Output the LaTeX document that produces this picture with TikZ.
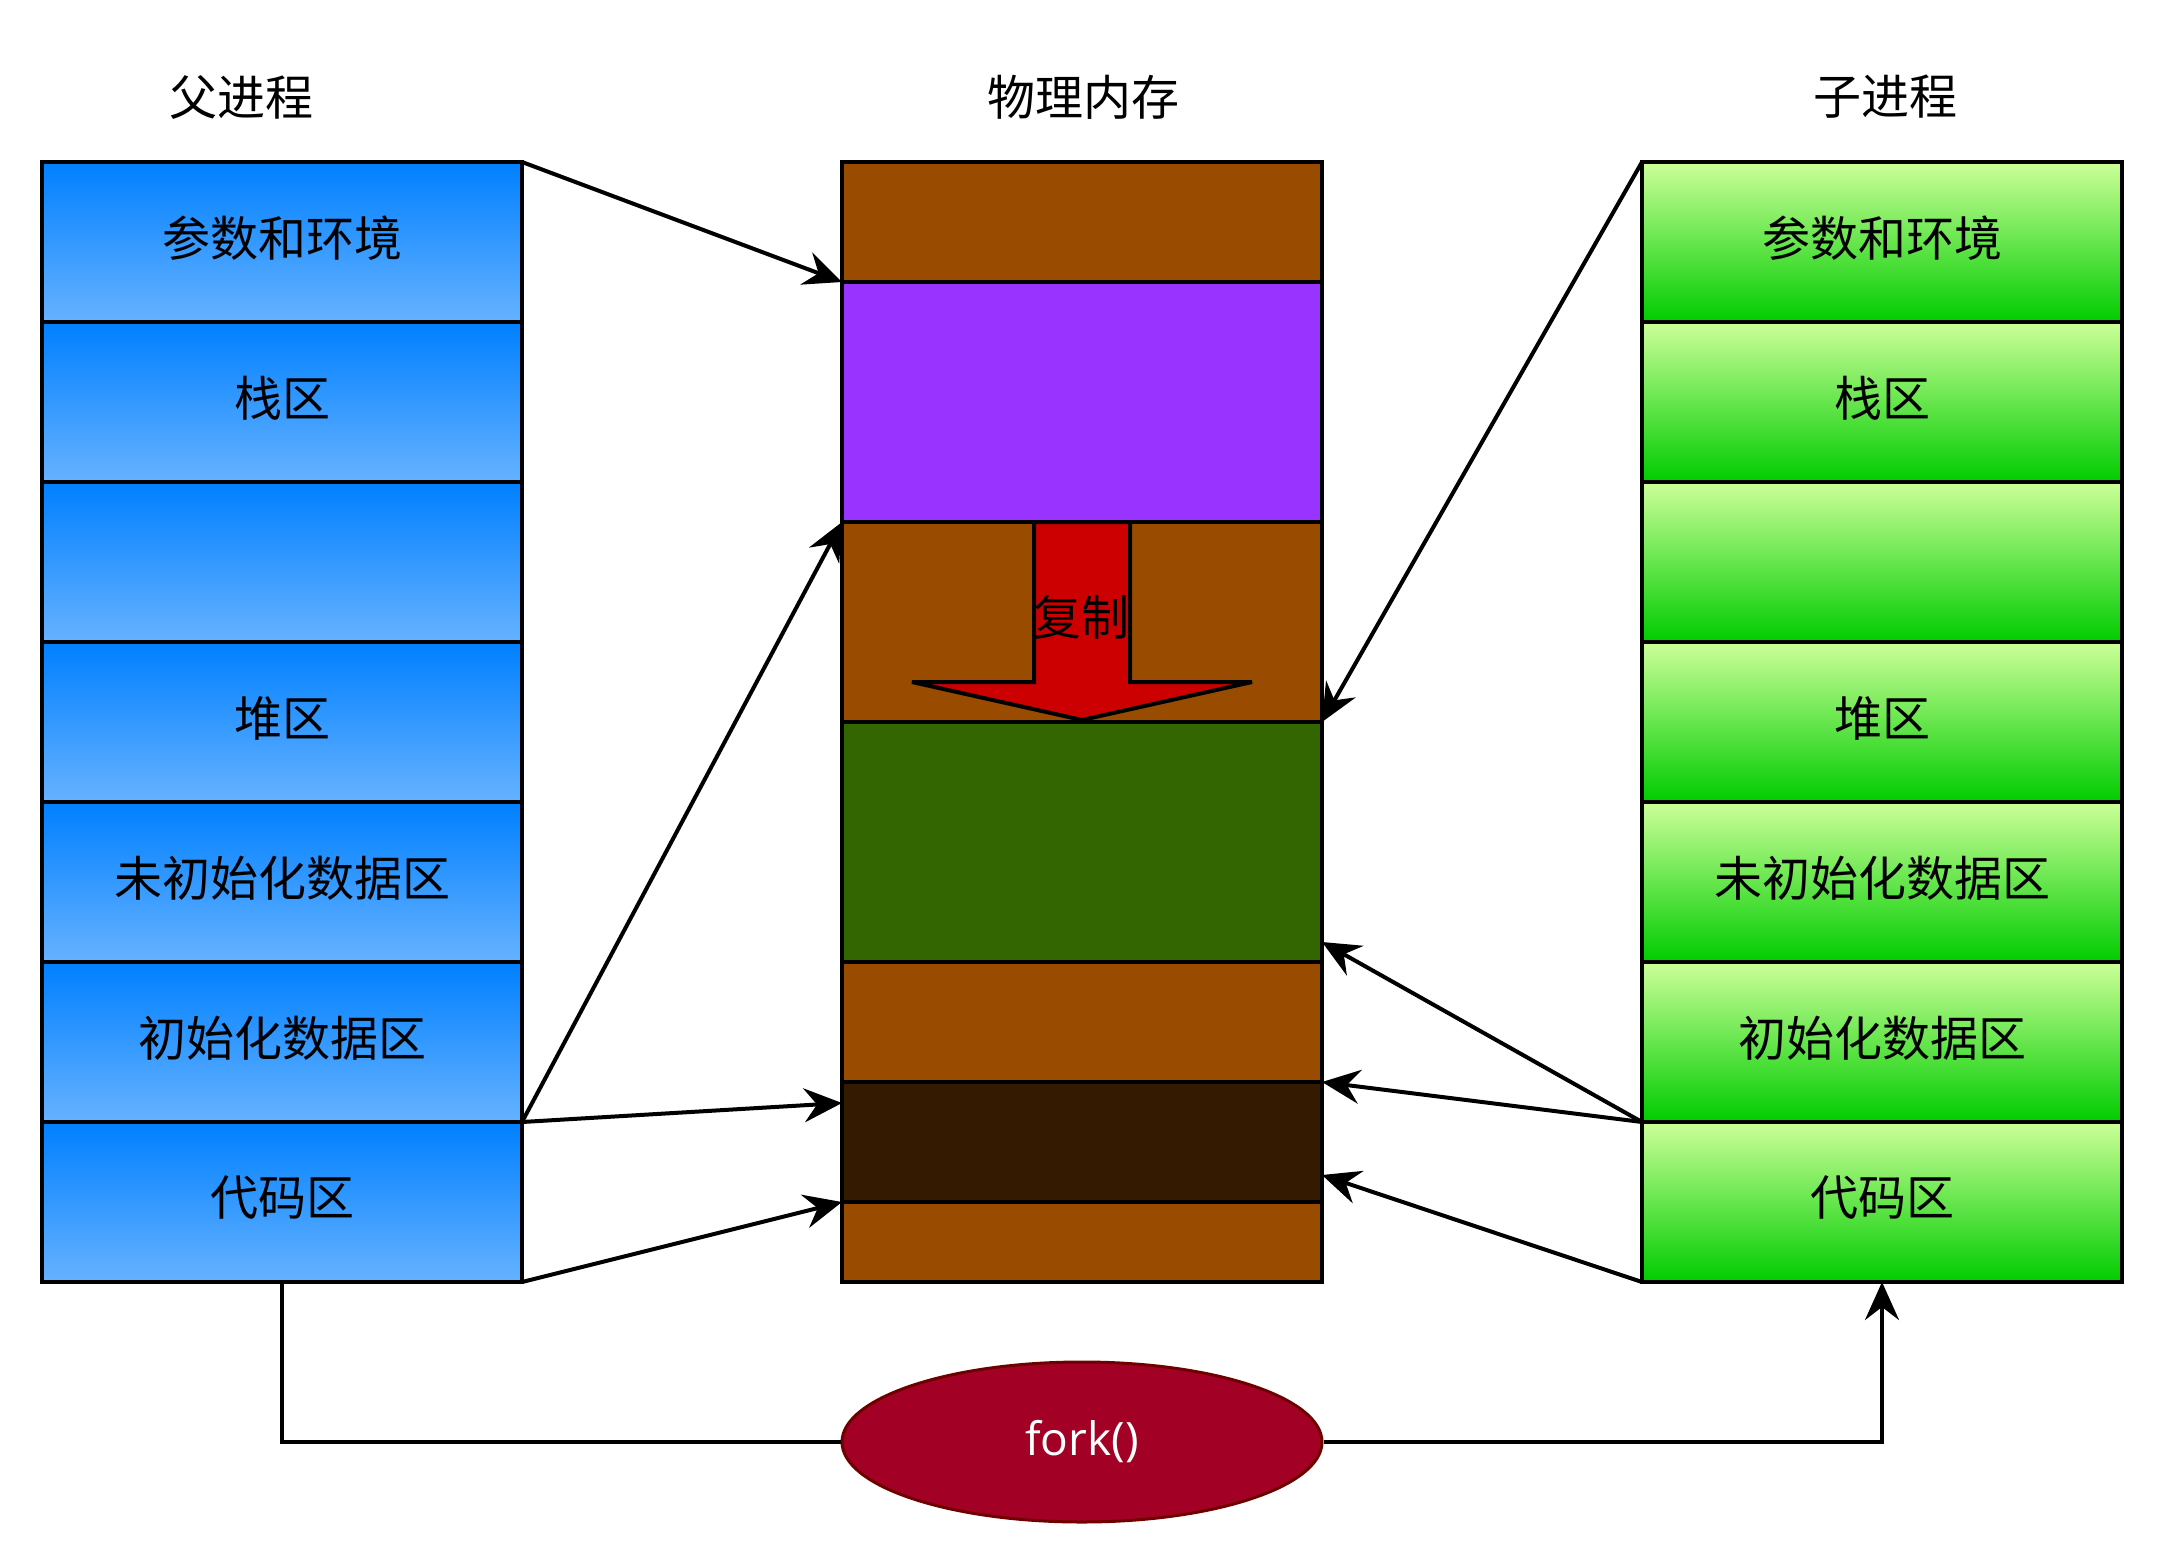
\documentclass[tikz,border=0pt]{standalone}
\usepackage{fontspec}
\setmainfont{Noto Sans CJK SC}
\newfontfamily\latinsf{Open Sans}
\usetikzlibrary{arrows.meta,shapes.geometric,calc}
\definecolor{bluetop}{RGB}{0,128,255}
\definecolor{bluebot}{RGB}{102,178,255}
\definecolor{greentop}{RGB}{204,255,153}
\definecolor{greenbot}{RGB}{0,204,0}
\definecolor{membrown}{HTML}{994C00}
\definecolor{mempurple}{HTML}{9933FF}
\definecolor{memgreen}{HTML}{336600}
\definecolor{memdark}{HTML}{331A00}
\definecolor{copyred}{HTML}{CC0000}
\definecolor{forkfill}{HTML}{A20025}
\definecolor{forkdraw}{HTML}{6F0000}
\begin{document}
\begin{tikzpicture}[x=1pt,y=-1pt,
  cjk/.style={font=\fontsize{48pt}{58pt}\selectfont},
  row/.style={draw=black, line width=4pt, inner sep=0pt, outer sep=0pt,
    minimum width=480pt, minimum height=160pt, anchor=north west},
  bluerow/.style={row, top color=bluetop, bottom color=bluebot},
  greenrow/.style={row, top color=greentop, bottom color=greenbot},
  rowtext/.style={cjk, inner sep=0pt},
  memblk/.style={draw=black, line width=4pt, inner sep=0pt, outer sep=0pt,
    minimum width=480pt, anchor=north west},
  title/.style={cjk, inner sep=0pt},
  arr/.style={line width=4pt, -{Stealth[length=38pt,width=34pt,inset=13pt]}},
  conn/.style={line width=4pt}
]
\useasboundingbox (0,0) rectangle (2164,1564);

% titles
\node[title] (tL) at (241,97) {父进程};
\node[title] (tM) at (1083,97) {物理内存};
\node[title] (tR) at (1885,97) {子进程};

% parent and child processes
\foreach \i in {0,...,6} {
  \node[bluerow] (L\i) at (42,162+160*\i) {};
  \node[greenrow] (R\i) at (1642,162+160*\i) {};
}
\foreach \i/\t in {0/参数和环境,1/栈区,3/堆区,4/未初始化数据区,5/初始化数据区,6/代码区} {
  \node[rowtext] (L\i t) at ($(L\i.center)+(0,-4)$) {\t};
  \node[rowtext] (R\i t) at ($(R\i.center)+(0,-4)$) {\t};
}

% physical memory
\node[memblk, fill=membrown, minimum height=120pt] (M0) at (842,162) {};
\node[memblk, fill=mempurple, minimum height=240pt] (M1) at (842,282) {};
\node[memblk, fill=membrown, minimum height=200pt] (M2) at (842,522) {};
\node[memblk, fill=memgreen, minimum height=240pt] (M3) at (842,722) {};
\node[memblk, fill=membrown, minimum height=120pt] (M4) at (842,962) {};
\node[memblk, fill=memdark, minimum height=120pt] (M5) at (842,1082) {};
\node[memblk, fill=membrown, minimum height=80pt] (M6) at (842,1202) {};

% copy arrow
\draw[line width=4pt, fill=copyred, line join=miter, miter limit=2.5]
  (1034,522) -- (1034,682) -- (912,682) -- (1082,720) -- (1252,682)
  -- (1130,682) -- (1130,522) -- cycle;
\node[cjk, inner sep=0pt] (copy) at (1081,617) {复制};

% mapping arrows
\coordinate (t3) at ($(M5.north west)+(0,21)$);
\coordinate (t6) at ($(M3.south east)+(0,-20)$);
\coordinate (t8) at ($(M5.south east)+(0,-27)$);
\draw[arr] (L0.north east) -- (M1.north west);
\draw[arr] (L6.north east) -- (M2.north west);
\draw[arr] (L6.north east) -- (t3);
\draw[arr] (L6.south east) -- (M6.north west);
\draw[arr] (R0.north west) -- (M3.north east);
\draw[arr] (R6.north west) -- (t6);
\draw[arr] (R6.north west) -- (M5.north east);
\draw[arr] (R6.south west) -- (t8);

% fork
\node[ellipse, draw=forkdraw, fill=forkfill, line width=3pt, inner sep=0pt,
  minimum width=480pt, minimum height=160pt, text=white,
  font=\latinsf\fontsize{46pt}{55pt}\selectfont] (fork) at (1082,1442) {fork()};
\draw[conn] (L6.south) |- (fork.west);
\draw[arr] (fork.east) -| (R6.south);
\end{tikzpicture}
\end{document}
